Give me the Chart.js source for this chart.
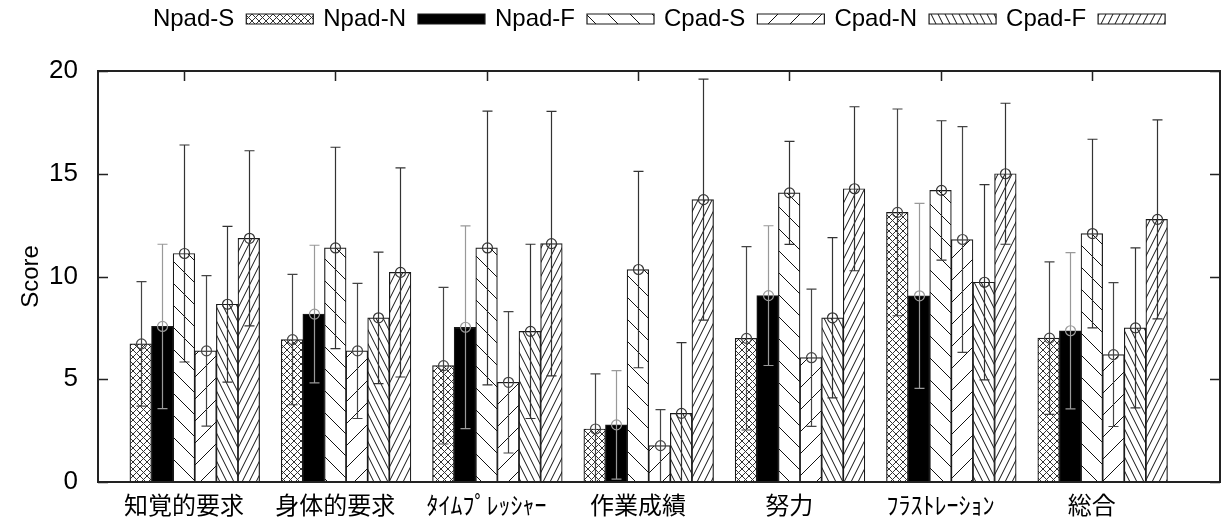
<!DOCTYPE html>
<html>
<head>
<meta charset="utf-8">
<title>Score</title>
<script src="https://cdn.jsdelivr.net/npm/chart.js@4.4.1/dist/chart.umd.min.js"></script>
<style>
    html, body { margin: 0; padding: 0; background: #fff; }
    #wrap { width: 1221px; height: 520px; }
</style>
</head>
<body>
<div id="wrap"><canvas id="myChart" width="1221" height="520"></canvas></div>
<script>
'use strict';

// categories (x) and series names
let groups = ['知覚的要求', '身体的要求', 'ﾀｲﾑﾌﾟﾚｯｼｬｰ', '作業成績', '努力', 'ﾌﾗｽﾄﾚｰｼｮﾝ', '総合'];
let seriesNames = ['Npad-S', 'Npad-N', 'Npad-F', 'Cpad-S', 'Cpad-N', 'Cpad-F'];
let yTicks = [0, 5, 10, 15, 20];

// means
let npadS = [6.72, 6.93, 5.66, 2.58, 6.99, 13.12, 7.00];
let npadN = [7.57, 8.17, 7.53, 2.78, 9.07, 9.06, 7.36];
let npadF = [11.12, 11.39, 11.39, 10.34, 14.07, 14.19, 12.09];
let cpadS = [6.38, 6.38, 4.85, 1.77, 6.05, 11.80, 6.20];
let cpadN = [8.65, 7.99, 7.33, 3.34, 7.99, 9.72, 7.50];
let cpadF = [11.86, 10.20, 11.60, 13.74, 14.27, 15.00, 12.78];

// standard deviations (error bars)
let npadSErr = [3.03, 3.17, 3.81, 2.68, 4.46, 5.03, 3.71];
let npadNErr = [4.00, 3.35, 4.93, 2.64, 3.40, 4.50, 3.80];
let npadFErr = [5.28, 4.90, 6.66, 4.78, 2.51, 3.39, 4.59];
let cpadSErr = [3.66, 3.29, 3.44, 1.75, 3.34, 5.49, 3.50];
let cpadNErr = [3.79, 3.20, 4.24, 3.44, 3.90, 4.75, 3.89];
let cpadFErr = [4.26, 5.09, 6.44, 5.86, 3.99, 3.43, 4.84];

let allMeans = [npadS, npadN, npadF, cpadS, cpadN, cpadF];
let allErrs = [npadSErr, npadNErr, npadFErr, cpadSErr, cpadNErr, cpadFErr];

// hatch patterns like gnuplot fill patterns
function hatch(kind) {
    let c = document.createElement('canvas');
    let g = c.getContext('2d');
    let w, h;
    if (kind === 'cross') { w = 7; h = 7; }
    else if (kind === 'back' || kind === 'fwd') { w = 22; h = 22; }
    else { w = 7; h = 14; }
    c.width = w;
    c.height = h;
    g.fillStyle = '#fff';
    g.fillRect(0, 0, w, h);
    if (kind === 'solid') {
        g.fillStyle = '#000';
        g.fillRect(0, 0, w, h);
        return g.createPattern(c, 'repeat');
    }
    g.strokeStyle = kind === 'cross' ? '#333' : '#111';
    g.lineWidth = 1;
    for (let s = -1; s <= 1; s++) {
        let o = s * w;
        g.beginPath();
        if (kind === 'cross' || kind === 'back' || kind === 'backSteep') {
            g.moveTo(o, 0);
            g.lineTo(o + w, h);
        }
        if (kind === 'cross' || kind === 'fwd' || kind === 'fwdSteep') {
            g.moveTo(o, h);
            g.lineTo(o + w, 0);
        }
        g.stroke();
    }
    return g.createPattern(c, 'repeat');
}

let fills = [hatch('cross'), hatch('solid'), hatch('back'), hatch('fwd'), hatch('backSteep'), hatch('fwdSteep')];
let errColors = ['#444', '#999', '#333', '#444', '#333', '#333'];

let datasets = [];
for (let k = 0; k < seriesNames.length; k++) {
    datasets.push({
        label: seriesNames[k],
        data: groups.map((name, i) => ({ x: i + (k - 2) / 7, y: allMeans[k][i] })),
        errors: allErrs[k],
        errorColor: errColors[k],
        backgroundColor: fills[k],
        borderColor: '#1a1a1a',
        borderWidth: 1.2,
        grouped: false,
        barPercentage: 1,
        categoryPercentage: 1
    });
}

// error bars with circle at the mean
const errorBars = {
    id: 'errorBars',
    afterDatasetsDraw(chart) {
        const { ctx, chartArea, scales } = chart;
        const xs = scales.x, ys = scales.y;
        ctx.save();
        ctx.beginPath();
        ctx.rect(chartArea.left, chartArea.top, chartArea.width, chartArea.height);
        ctx.clip();
        chart.data.datasets.forEach((ds) => {
            ds.data.forEach((pt, i) => {
                let px = Math.round(xs.getPixelForValue(pt.x)) + 0.5;
                let yMid = ys.getPixelForValue(pt.y);
                let yHi = ys.getPixelForValue(pt.y + ds.errors[i]);
                let yLo = ys.getPixelForValue(pt.y - ds.errors[i]);
                ctx.strokeStyle = ds.errorColor;
                ctx.lineWidth = 1.2;
                ctx.beginPath();
                ctx.moveTo(px, yHi);
                ctx.lineTo(px, yLo);
                ctx.moveTo(px - 5, yHi);
                ctx.lineTo(px + 5, yHi);
                ctx.moveTo(px - 5, yLo);
                ctx.lineTo(px + 5, yLo);
                ctx.stroke();
                ctx.beginPath();
                ctx.arc(px, yMid, 5, 0, Math.PI * 2);
                ctx.stroke();
            });
        });
        ctx.restore();
    }
};

// gnuplot-like border with inward ticks (left, right, top)
const frame = {
    id: 'frame',
    afterDatasetsDraw(chart) {
        const { ctx, chartArea: a, scales } = chart;
        ctx.save();
        ctx.strokeStyle = '#222';
        ctx.lineWidth = 1.5;
        ctx.beginPath();
        scales.y.ticks.forEach((t) => {
            let py = Math.round(scales.y.getPixelForValue(t.value)) + 0.5;
            ctx.moveTo(a.left, py);
            ctx.lineTo(a.left + 10, py);
            ctx.moveTo(a.right, py);
            ctx.lineTo(a.right - 10, py);
        });
        scales.x.ticks.forEach((t) => {
            let px = Math.round(scales.x.getPixelForValue(t.value)) + 0.5;
            ctx.moveTo(px, a.top);
            ctx.lineTo(px, a.top + 10);
        });
        ctx.stroke();
        ctx.lineWidth = 2;
        ctx.strokeRect(a.left, a.top, a.right - a.left, a.bottom - a.top);
        ctx.restore();
    }
};

Chart.defaults.font.family = '"Liberation Sans", Arial, Helvetica, sans-serif';
Chart.defaults.color = '#000';

let ctx = document.getElementById('myChart').getContext('2d');
let myChart = new Chart(ctx, {
    type: 'bar',
    data: { datasets: datasets },
    options: {
        responsive: false,
        animation: false,
        layout: { padding: { top: -3, right: 1, bottom: 0, left: 0 } },
        plugins: {
            tooltip: { enabled: false },
            legend: {
                position: 'top',
                fullSize: false,
                rtl: true,
                reverse: true,
                textDirection: 'ltr',
                labels: {
                    boxWidth: 67,
                    boxHeight: 10,
                    padding: 10,
                    color: '#000',
                    font: { size: 24 }
                }
            }
        },
        scales: {
            x: {
                type: 'linear',
                min: -0.568,
                max: 6.847,
                offset: false,
                grid: { display: false },
                border: { display: false },
                afterBuildTicks: (axis) => {
                    axis.ticks = groups.map((name, i) => ({ value: i }));
                },
                afterFit: (axis) => { axis.height = 38; },
                ticks: {
                    autoSkip: false,
                    maxRotation: 0,
                    padding: 0,
                    color: '#000',
                    font: { family: '"Noto Sans CJK JP", sans-serif', size: 24 },
                    callback: (v) => groups[v]
                }
            },
            xTop: {
                type: 'linear',
                position: 'top',
                min: -0.568,
                max: 6.847,
                offset: false,
                grid: { display: false },
                border: { display: false },
                ticks: { display: false },
                afterFit: (axis) => { axis.height = 30; }
            },
            y: {
                min: 0,
                max: 20,
                grid: { display: false },
                border: { display: false },
                afterBuildTicks: (axis) => {
                    axis.ticks = yTicks.map((v) => ({ value: v }));
                },
                afterFit: (axis) => { axis.width = 98; },
                ticks: {
                    padding: 12,
                    color: '#000',
                    font: { size: 26 }
                },
                title: {
                    display: true,
                    text: 'Score',
                    color: '#000',
                    font: { size: 24 },
                    padding: { top: 17, bottom: 0 }
                }
            }
        }
    },
    plugins: [errorBars, frame]
});
</script>
</body>
</html>
